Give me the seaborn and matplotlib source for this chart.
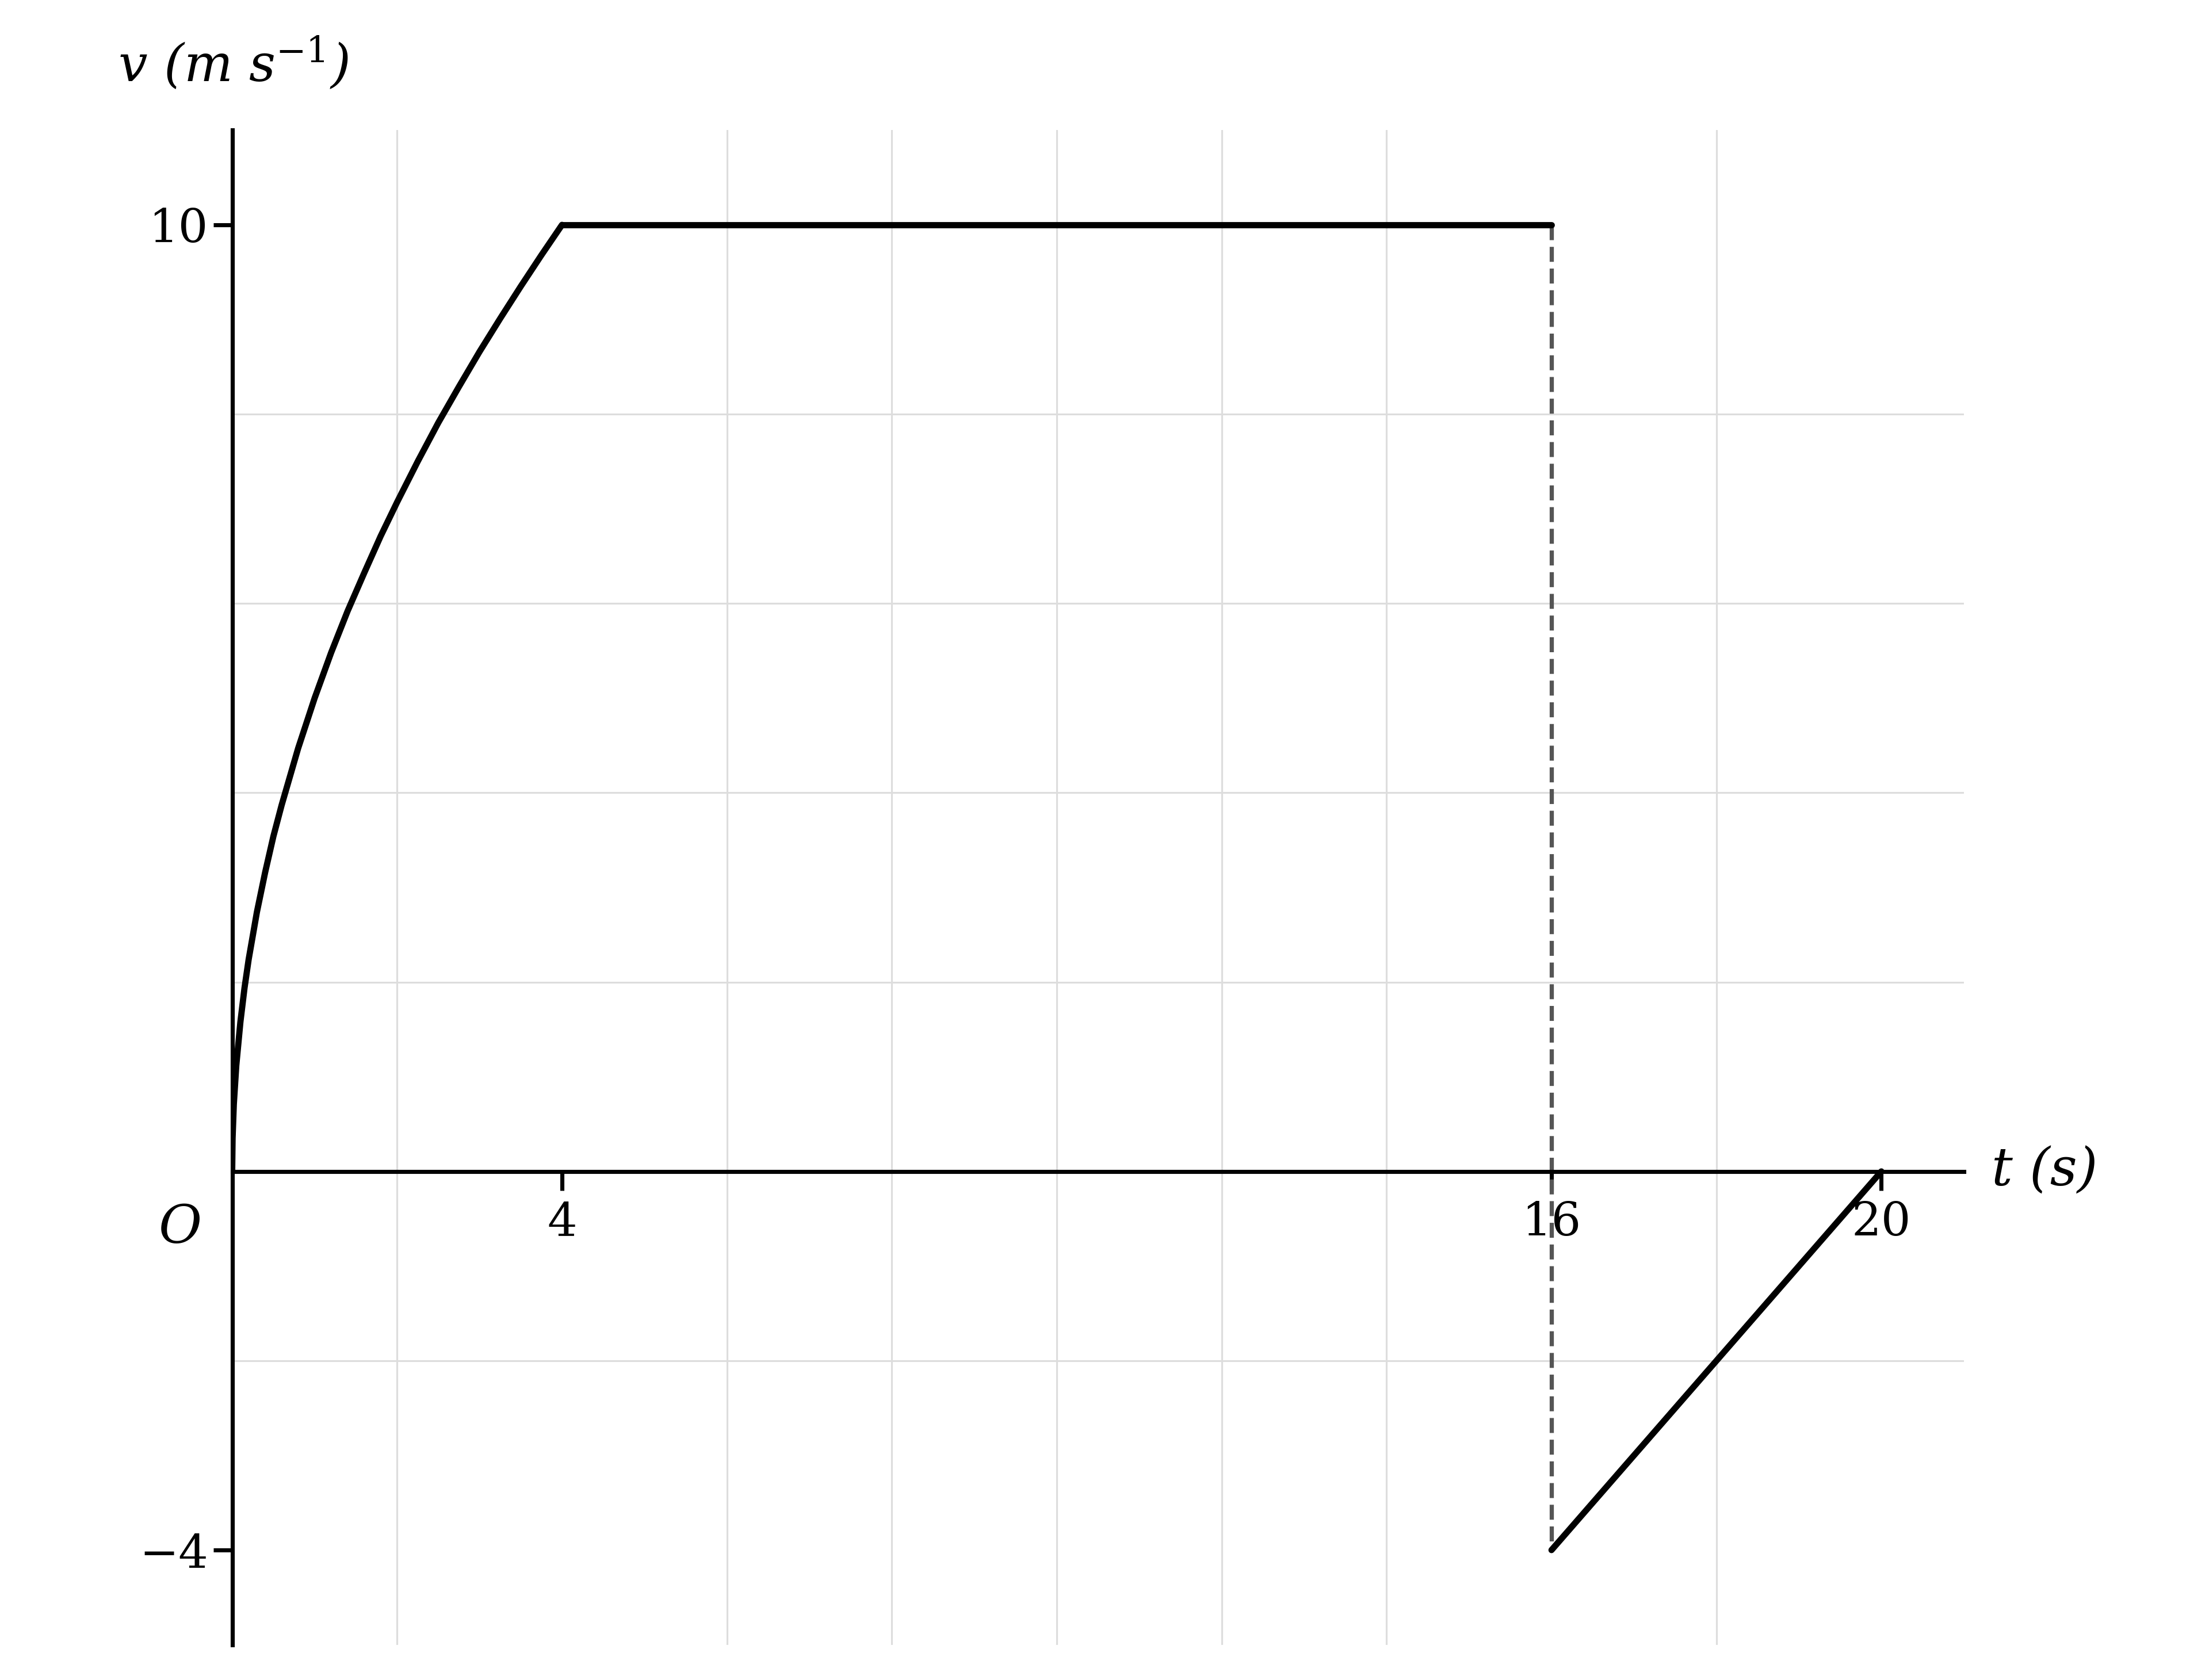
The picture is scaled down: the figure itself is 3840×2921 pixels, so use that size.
import matplotlib
matplotlib.use("Agg")
import matplotlib.pyplot as plt
import seaborn as sns

# ------------------------------
# data
# ------------------------------
curve_t = [0, 0.005, 0.02, 0.05, 0.1, 0.15, 0.2, 0.3, 0.4, 0.5, 0.6, 0.8, 1.0, 1.2, 1.4,
           1.6, 1.8, 2.0, 2.25, 2.5, 2.75, 3.0, 3.25, 3.5, 3.75, 4.0]
curve_v = [0, 0.35, 0.71, 1.12, 1.58, 1.94, 2.24, 2.74, 3.16, 3.54, 3.87, 4.47, 5.0, 5.48, 5.92,
           6.32, 6.71, 7.07, 7.5, 7.91, 8.29, 8.66, 9.01, 9.35, 9.68, 10.0]
flat_t = [4, 16]
flat_v = [10, 10]
final_t = [16, 20]
final_v = [-4, 0]
drop_t = [16, 16]
drop_v = [10, -4]

x_ticks = [4, 16, 20]
y_ticks = [10, -4]
y_tick_labels = ["10", "\u22124"]

# ------------------------------
# style
# ------------------------------
sns.set_theme(style="white")
plt.rcParams["font.family"] = ["DejaVu Serif", "DejaVu Sans"]
plt.rcParams["mathtext.fontset"] = "dejavuserif"
plt.rcParams["text.color"] = "black"
plt.rcParams["lines.scale_dashes"] = False

fig = plt.figure(figsize=(12.8, 2921 / 300))
ax = fig.add_axes([0.1051, 0.021, 0.7839, 0.9015])

# grid every 2 units
ax.set_xticks(range(2, 22, 2), minor=True)
ax.set_yticks([-4, -2, 0, 2, 4, 6, 8, 10], minor=True)
ax.grid(which="minor", color="#dddddd", lw=0.75)
ax.set_axisbelow(True)

# ------------------------------
# lines
# ------------------------------
sns.lineplot(x=drop_t, y=drop_v, color="#555555", lw=1.75, ax=ax, sort=False, estimator=None)
ax.lines[-1].set_dashes([6.25, 2.8])  # dash / gap in points
for tt, vv in [(curve_t, curve_v), (flat_t, flat_v), (final_t, final_v)]:
    sns.lineplot(x=tt, y=vv, color="black", lw=2.6, ax=ax, sort=False,
                 estimator=None, solid_capstyle="round", solid_joinstyle="round")

# ------------------------------
# axes
# ------------------------------
ax.set_xlim(0, 21)
ax.set_ylim(-5, 11)
ax.spines["right"].set_visible(False)
ax.spines["top"].set_visible(False)
ax.spines["bottom"].set_position(("data", 0))
for s in ["left", "bottom"]:
    ax.spines[s].set_color("black")
    ax.spines[s].set_linewidth(1.7)

ax.set_xticks(x_ticks)
ax.set_xticklabels([str(t) for t in x_ticks])
ax.set_yticks(y_ticks)
ax.set_yticklabels(y_tick_labels)
ax.tick_params(which="major", direction="out", length=8, width=1.7, colors="black",
               labelsize=19.5, bottom=True, left=True)
ax.tick_params(axis="x", pad=4)
ax.tick_params(axis="y", pad=2)
ax.tick_params(which="minor", length=0)
ax.set_xlabel("")
ax.set_ylabel("")

ax.text(-0.066, 1.044, "v (m s$^{-1}$)", transform=ax.transAxes, fontsize=21.5,
        style="italic", ha="left", va="center")
ax.text(1.016, 0, "t (s)", transform=ax.get_yaxis_transform(), fontsize=22,
        style="italic", ha="left", va="center")
ax.text(-0.03, -0.6, "O", transform=ax.get_yaxis_transform(), fontsize=22,
        style="italic", ha="center", va="center")

fig.savefig("out.png", dpi=300)
